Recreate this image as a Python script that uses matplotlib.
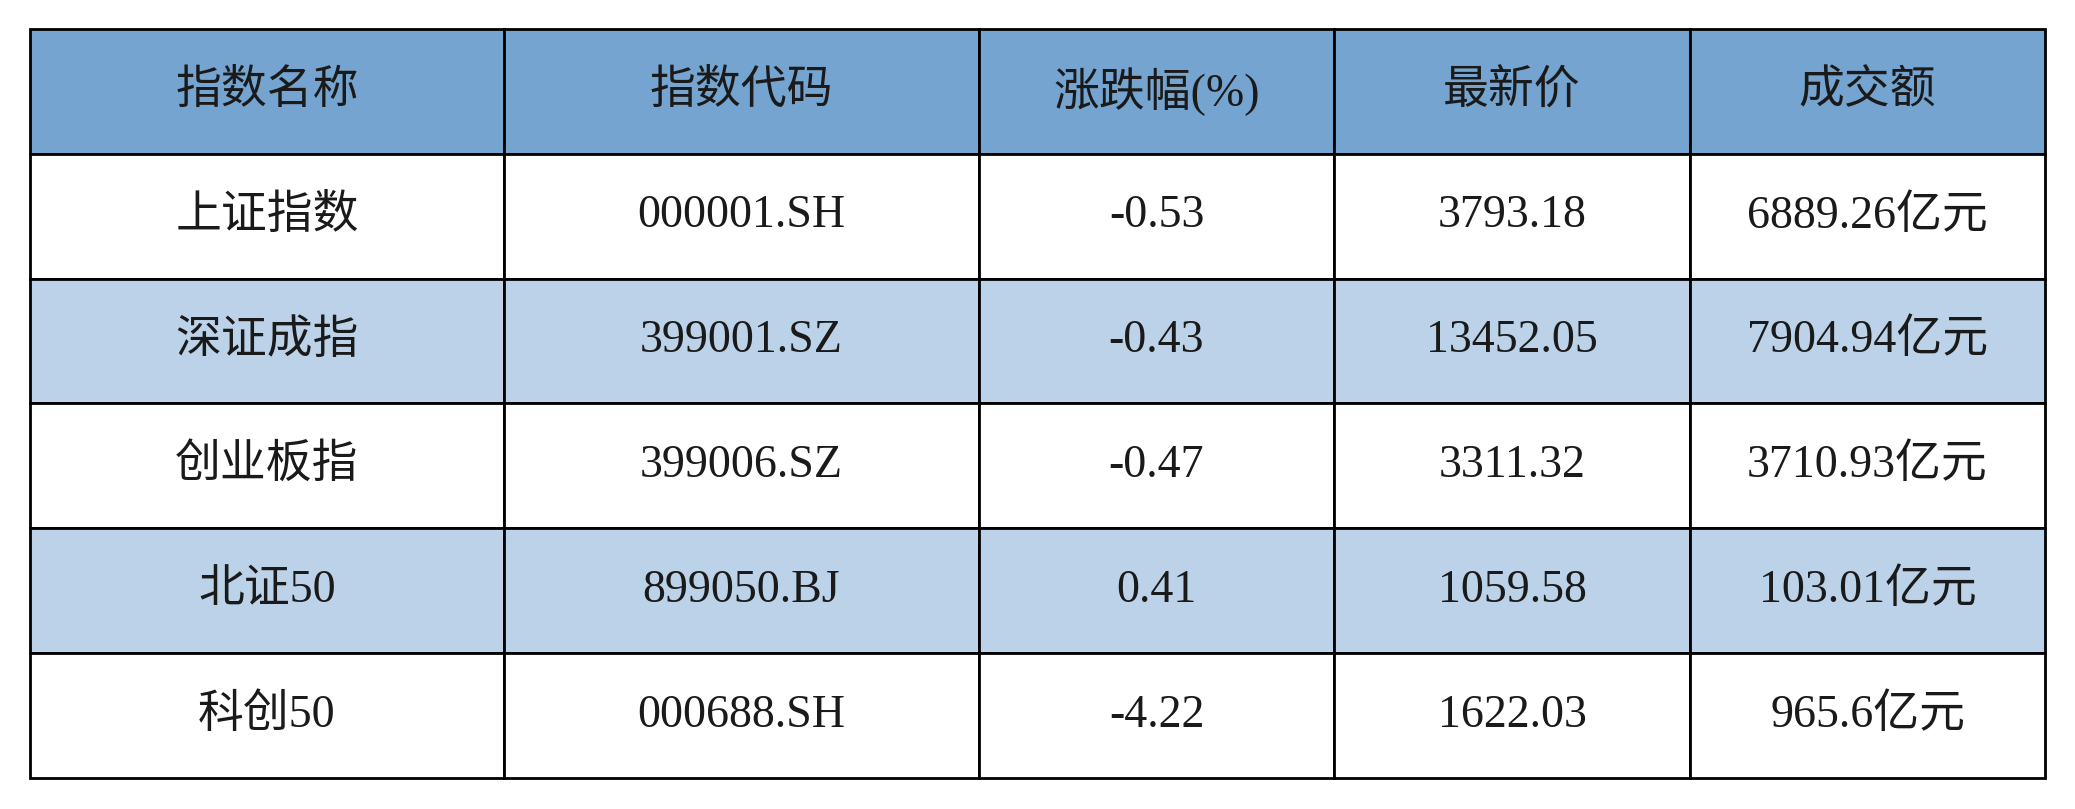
import matplotlib
matplotlib.use("Agg")
from matplotlib import pyplot as plt

# table contents
columns = ["指数名称", "指数代码", "涨跌幅(%)", "最新价", "成交额"]
names = ["上证指数", "深证成指", "创业板指", "北证50", "科创50"]
codes = ["000001.SH", "399001.SZ", "399006.SZ", "899050.BJ", "000688.SH"]
changes = ["-0.53", "-0.43", "-0.47", "0.41", "-4.22"]
prices = ["3793.18", "13452.05", "3311.32", "1059.58", "1622.03"]
turnover = ["6889.26亿元", "7904.94亿元", "3710.93亿元", "103.01亿元", "965.6亿元"]

header_color = "#74a4cf"
stripe_color = "#bbd2e8"
fonts = ["Liberation Serif", "Noto Sans CJK SC", "DejaVu Sans"]

rows = [list(r) for r in zip(names, codes, changes, prices, turnover)]
colours = [["white"] * 5 if i % 2 == 0 else [stripe_color] * 5 for i in range(len(rows))]

fig = plt.figure(figsize=(20.75, 8.09), dpi=100)
ax = fig.add_axes([0, 0, 1, 1])
ax.axis("off")

left, right = 30 / 2075, 2045 / 2075
bottom, top = 1 - 778 / 809, 1 - 29 / 809
widths = [474, 475, 355, 356, 355]
total = sum(widths)

table = ax.table(cellText=rows, colLabels=columns, cellColours=colours,
                 colColours=[header_color] * 5, cellLoc="center",
                 colWidths=[w / total for w in widths],
                 bbox=[left, bottom, right - left, top - bottom])
table.auto_set_font_size(False)

for (r, c), cell in table.get_celld().items():
    cell.set_edgecolor("black")
    cell.set_linewidth(2.0)
    txt = cell.get_text()
    txt.set_fontfamily(fonts)
    txt.set_fontsize(33)
    txt.set_color("#1a1a1a")

fig.savefig("out.png", dpi=100, facecolor="white")
